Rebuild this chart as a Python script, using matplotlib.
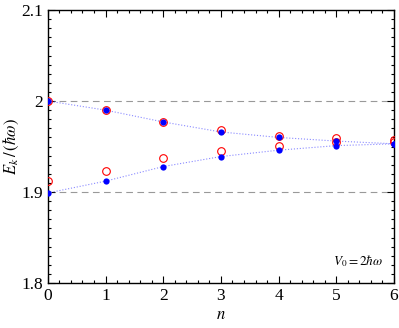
import matplotlib
matplotlib.use("Agg")
import matplotlib.pyplot as plt
from matplotlib.ticker import MultipleLocator

plt.rcParams['font.family'] = ['Liberation Serif', 'DejaVu Serif']
plt.rcParams['mathtext.fontset'] = 'stix'

n = [0, 1, 2, 3, 4, 5, 6]
upper_blue = [2.000, 1.990, 1.977, 1.966, 1.960, 1.956, 1.953]
lower_blue = [1.899, 1.912, 1.928, 1.939, 1.946, 1.951, 1.953]
upper_red = [2.000, 1.990, 1.977, 1.968, 1.962, 1.959, 1.957]
lower_red = [1.912, 1.923, 1.937, 1.945, 1.951, 1.955, 1.955]

fig = plt.figure(figsize=(3.99, 3.28), dpi=100)
ax = fig.add_axes([0.12, 0.137, 0.8675, 0.8325])

ax.axhline(2.0, color='#999999', ls=(0, (6, 4)), lw=0.8, zorder=1)
ax.axhline(1.9, color='#999999', ls=(0, (6, 4)), lw=0.8, zorder=1)

ax.plot(n, upper_blue, ls=':', color='#8a8aff', lw=0.8, zorder=2)
ax.plot(n, lower_blue, ls=':', color='#8a8aff', lw=0.8, zorder=2)

ax.plot(n, upper_red, 'o', mfc='none', mec='red', ms=5.5, mew=0.8, zorder=3)
ax.plot(n, lower_red, 'o', mfc='none', mec='red', ms=5.5, mew=0.8, zorder=3)
ax.plot(n, upper_blue, 'o', color='blue', ms=4.5, mew=0, zorder=4)
ax.plot(n, lower_blue, 'o', color='blue', ms=4.5, mew=0, zorder=4)

ax.set_xlim(0, 6)
ax.set_ylim(1.8, 2.1)
ax.set_xticks([0, 1, 2, 3, 4, 5, 6])
ax.set_yticks([1.8, 1.9, 2.0, 2.1])
ax.set_yticklabels(['1.8', '1.9', '2', '2.1'])
ax.xaxis.set_minor_locator(MultipleLocator(0.2))
ax.yaxis.set_minor_locator(MultipleLocator(0.01))
ax.tick_params(which='both', direction='in', top=True, right=True, labelsize=12.5, width=0.8)
ax.tick_params(which='major', length=5)
ax.tick_params(which='minor', length=2.5)
for s in ax.spines.values():
    s.set_linewidth(1.0)

ax.set_xlabel(r'$n$', fontsize=12, labelpad=2)
ax.set_ylabel(r'$E_k\,/\,(\hbar\omega)$', fontsize=12, labelpad=0)
ax.text(0.97, 0.05, r'$V_0 = 2\hbar\omega$', transform=ax.transAxes, ha='right', va='bottom', fontsize=9.5)

fig.savefig('out.png', dpi=100)
